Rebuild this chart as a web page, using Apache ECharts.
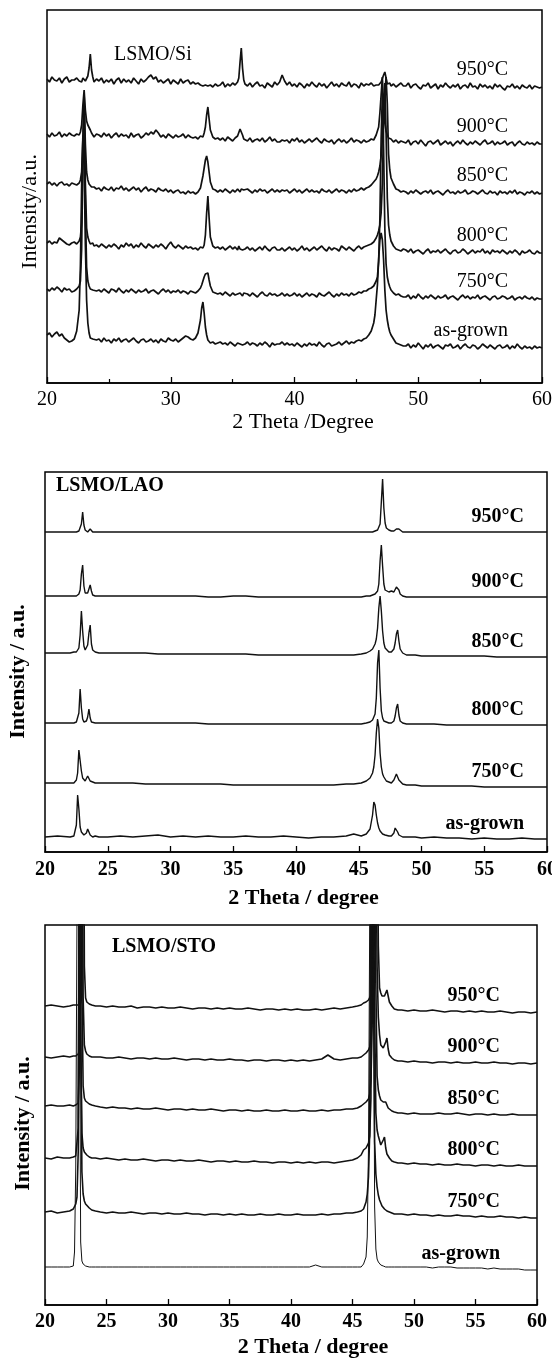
<!DOCTYPE html>
<html>
<head>
<meta charset="utf-8">
<title>LSMO XRD</title>
<script src="https://cdn.jsdelivr.net/npm/echarts@6/dist/echarts.min.js"></script>
<style>
html, body { margin: 0; padding: 0; background: #fff; }
#chart { width: 552px; height: 1360px; }
</style>
</head>
<body>
<div id="chart"></div>
<script>
// trace names, top to bottom
const traceNames = ['950°C', '900°C', '850°C', '800°C', '750°C', 'as-grown'];

// ---- LSMO/Si : 2theta samples and intensities (a.u., relative to each trace's stack offset)
const thetaSi = [
  20.0, 20.2, 20.4, 20.6, 20.8, 21.0, 21.2, 21.4, 21.6, 21.8, 22.0,
  22.2, 22.4, 22.6, 22.7, 22.8, 22.9, 23.0, 23.1, 23.2, 23.3, 23.4, 23.5, 23.6, 23.7, 23.8, 24.0,
  24.2, 24.4, 24.6, 24.8, 25.0, 25.2, 25.4, 25.6, 25.8, 26.0,
  26.2, 26.4, 26.6, 26.8, 27.0, 27.2, 27.4, 27.6, 27.8, 28.0,
  28.2, 28.4, 28.6, 28.8, 29.0, 29.2, 29.4, 29.6, 29.8, 30.0,
  30.2, 30.4, 30.6, 30.8, 31.0, 31.2, 31.4, 31.6, 31.8,
  32.0, 32.2, 32.4, 32.5, 32.6, 32.7, 32.8, 32.9, 33.0, 33.1, 33.2, 33.4, 33.6, 33.8,
  34.0, 34.2, 34.4, 34.6, 34.8, 35.0, 35.2, 35.4,
  35.5, 35.6, 35.7, 35.8, 35.9, 36.0,
  36.2, 36.4, 36.6, 36.8, 37.0, 37.2, 37.4, 37.6, 37.8, 38.0, 38.2, 38.4, 38.6,
  38.8, 39.0, 39.2,
  39.4, 39.6, 39.8, 40.0, 40.2, 40.4, 40.6, 40.8, 41.0, 41.2,
  41.4, 41.6, 41.8, 42.0, 42.2, 42.4, 42.6, 42.8, 43.0, 43.2,
  43.4, 43.6, 43.8, 44.0, 44.2, 44.4, 44.6, 44.8, 45.0, 45.2,
  45.4, 45.6, 45.8,
  46.0, 46.2, 46.4, 46.5, 46.6, 46.7, 46.8, 46.9, 47.0, 47.1,
  47.2, 47.3, 47.4, 47.5, 47.6, 47.7, 47.8, 48.0, 48.2, 48.4,
  48.6, 48.8,
  49.0, 49.2, 49.4, 49.6, 49.8, 50.0, 50.2, 50.4, 50.6, 50.8,
  51.0, 51.2, 51.4, 51.6, 51.8, 52.0, 52.2, 52.4, 52.6, 52.8,
  53.0, 53.2, 53.4, 53.6, 53.8, 54.0, 54.2, 54.4, 54.6, 54.8,
  55.0, 55.2, 55.4, 55.6, 55.8, 56.0, 56.2, 56.4, 56.6, 56.8,
  57.0, 57.2, 57.4, 57.6, 57.8, 58.0, 58.2, 58.4, 58.6, 58.8,
  59.0, 59.2, 59.4, 59.6, 59.8, 60.0
];
const offsetSi = [303, 248, 199, 140, 94, 48];
const si950 = [
  1, -2, 3, 0, -1, 2, -3, 1, 3, -2, 0,
  0, 2, -1, 1, -2, 2, 0, -1, 1, 4, 12, 26, 10, 3, -2, 1,
  -1, 2, -3, 0, -2, 1, -4, 0, 2, -3,
  1, -2, 0, -3, 2, -1, -4, 1, -2, 0,
  3, 5, 1, 3, -2, 0, -3, -1, 1, -4,
  0, -2, -4, 1, -3, -1, 0, -4, -2,
  -4, -3, -5, -3, -6, -4, -5, -3, -6, -4, -5, -7, -4, -6,
  -5, -2, -7, -4, -6, -3, -5, -2,
  2, 18, 32, 12, 0, -4,
  -6, -3, -7, -4, -2, -6, -5, -8, -3, -5, -7, -2, -5,
  -2, 5, -1,
  -5, -2, -6, -4, -7, -3, -5, -8, -4, -6,
  -2, -5, -7, -3, -6, -4, -8, -5, -2, -6,
  -4, -7, -3, -5, -6, -2, -7, -4, -5, -8,
  -3, -6, -4,
  -5, -3, -6, -4, -5, -3, -5, -3, -2, 0,
  5, 8, 2, -4, -5, -3, -6, -4, -7, -5,
  -3, -6,
  -6, -3, -8, -5, -4, -7, -9, -5, -6, -3,
  -8, -6, -4, -9, -5, -7, -3, -6, -8, -5,
  -7, -4, -9, -6, -5, -8, -3, -7, -6, -9,
  -4, -7, -5, -8, -6, -9, -4, -7, -5, -8,
  -10, -6, -7, -4, -8, -6, -9, -5, -7, -8,
  -5, -9, -6, -7, -8, -7
];
const si900 = [
  1, -2, 2, -1, 0, 3, -2, 1, -1, 2, 0,
  -1, 1, 0, 3, 10, 30, 45, 25, 14, 10, 8, 5, 2, 0, -2, 1,
  0, -2, 2, -1, 1, -3, 0, 2, -2, 1,
  -1, 0, -3, 2, -2, 0, 1, -3, -1, 2,
  0, 3, 1, 5, 2, -2, 0, -3, 1, -1,
  -3, 0, -2, -1, 1, -3, 0, -2, -3,
  -2, -4, -1, -3, -2, 2, 8, 20, 28, 16, 5, -2, -4, -3,
  -5, -3, -6, -2, -4, -6, -3, -1,
  0, 6, 5, 0, -4, -5,
  -6, -3, -7, -5, -4, -6, -3, -7, -5, -2, -6, -4, -7,
  -7, -5, -6,
  -5, -8, -4, -6, -3, -7, -5, -8, -6, -4,
  -7, -5, -3, -6, -8, -4, -6, -7, -5, -9,
  -6, -4, -7, -5, -8, -6, -3, -7, -5, -6,
  -8, -5, -7,
  -6, -4, -5, -3, 0, 2, 8, 22, 40, 58,
  30, 12, 4, 0, -3, -5, -4, -7, -5, -8,
  -6, -7,
  -8, -5, -10, -7, -6, -9, -5, -8, -11, -7,
  -6, -9, -7, -5, -10, -8, -6, -9, -7, -11,
  -8, -6, -9, -5, -8, -10, -7, -9, -6, -8,
  -10, -7, -5, -9, -8, -6, -10, -7, -9, -8,
  -6, -10, -8, -7, -11, -8, -6, -9, -10, -7,
  -9, -8, -10, -7, -9, -9
];
const si850 = [
  0, 2, -1, 1, -2, 1, 2, -1, 0, -2, 1,
  0, -1, 1, 4, 12, 45, 89, 40, 12, 4, 0, -2, -3, -4, -3, -5,
  -4, -7, -3, -5, -6, -3, -7, -4, -5, -2,
  -6, -4, -7, -5, -3, -6, -4, -8, -5, -3,
  -7, -5, -6, -8, -4, -6, -7, -5, -8, -6,
  -9, -7, -6, -9, -8, -10, -7, -9, -8,
  -10, -8, -4, 2, 8, 16, 24, 28, 22, 12, 2, -5, -6, -8,
  -6, -8, -5, -7, -9, -6, -8, -5,
  -6, -8, -5, -7, -6, -8,
  -5, -7, -9, -6, -8, -5, -7, -6, -9, -7, -5, -8, -6,
  -8, -6, -7,
  -6, -9, -7, -5, -8, -6, -9, -7, -5, -8,
  -6, -8, -7, -9, -5, -7, -8, -6, -9, -7,
  -5, -8, -6, -7, -9, -6, -8, -5, -7, -6,
  -4, -6, -4,
  -3, -1, 2, 3, 5, 8, 12, 18, 28, 45,
  70, 90, 107, 80, 30, 14, 6, 0, -5, -6,
  -8, -7,
  -8, -10, -7, -9, -6, -8, -10, -8, -7, -9,
  -6, -10, -8, -7, -9, -11, -8, -6, -9, -8,
  -10, -7, -9, -8, -6, -10, -9, -7, -8, -10,
  -8, -6, -9, -10, -7, -9, -8, -11, -7, -9,
  -8, -10, -7, -9, -6, -10, -8, -9, -11, -8,
  -9, -7, -10, -8, -10, -9
];
const si800 = [
  0, 2, -1, 1, 0, 5, 3, 1, -1, -2, 0,
  1, -1, 2, 6, 20, 90, 142, 60, 15, 6, 2, -1, -2, 0, -3, -2,
  -4, -1, -3, -5, -2, -4, -1, -3, -6, -2,
  -4, 0, -3, -1, -5, -2, -4, 0, -3, -5,
  -1, -3, -5, -2, -4, -1, -3, -6, -2, 1,
  -3, -5, -2, -4, -6, -3, -5, -4, -6,
  -5, -7, -4, -6, -5, -2, 8, 30, 47, 25, 6, -3, -5, -4,
  -6, -4, -7, -5, -3, -6, -4, -7,
  -3, -6, -4, -7, -5, -6,
  -4, -7, -5, -8, -6, -4, -7, -3, -6, -8, -5, -4, -7,
  -7, -5, -8,
  -6, -4, -7, -5, -8, -6, -3, -7, -5, -8,
  -6, -4, -7, -5, -3, -6, -8, -4, -7, -5,
  -6, -8, -3, -5, -7, -4, -6, -8, -5, -3,
  -6, -4, -3,
  -2, -1, 1, 3, 5, 8, 12, 18, 30, 60,
  120, 160, 110, 45, 18, 8, 2, -3, -6, -7,
  -8, -6,
  -7, -9, -6, -10, -8, -7, -9, -11, -8, -6,
  -10, -8, -9, -7, -10, -8, -6, -9, -11, -8,
  -7, -10, -9, -6, -8, -11, -9, -7, -10, -8,
  -9, -6, -10, -8, -11, -7, -9, -8, -10, -7,
  -9, -11, -8, -10, -7, -9, -12, -8, -10, -9,
  -7, -10, -11, -8, -10, -10
];
const si750 = [
  0, -2, 1, -1, 2, 0, -3, 1, -1, 0, -3,
  -2, 0, 3, 8, 40, 130, 180, 80, 22, 8, 3, 0, -2, -1, -3, -2,
  -1, -3, 0, -2, -4, 0, -1, -3, 1, -2,
  -4, -1, -3, 0, -2, -4, -1, -3, -2, 0,
  -4, -2, -1, -3, -5, -2, 0, -3, -1, -4,
  -2, -3, -1, -4, -2, -3, -5, -2, -3,
  -4, -2, 1, 4, 8, 12, 15, 14, 16, 9, 3, -3, -4, -5,
  -4, -6, -3, -5, -7, -4, -6, -5,
  -6, -4, -5, -7, -4, -6,
  -5, -7, -4, -6, -8, -5, -3, -6, -7, -4, -6, -5, -7,
  -6, -4, -7,
  -5, -7, -6, -4, -7, -5, -8, -6, -4, -7,
  -5, -6, -8, -4, -6, -7, -5, -3, -6, -8,
  -5, -7, -4, -6, -5, -7, -4, -6, -5, -3,
  -4, -2, -2,
  0, 1, 3, 5, 8, 12, 28, 70, 150, 196,
  140, 60, 25, 12, 6, 2, -1, -4, -6, -5,
  -7, -8,
  -8, -6, -10, -7, -9, -5, -8, -10, -7, -9,
  -6, -8, -10, -7, -9, -8, -6, -10, -8, -7,
  -9, -11, -8, -6, -9, -7, -10, -8, -9, -6,
  -10, -8, -7, -9, -11, -8, -7, -10, -9, -7,
  -8, -10, -9, -7, -11, -9, -8, -10, -7, -9,
  -10, -8, -11, -9, -10, -10
];
const siAsGrown = [
  0, 2, -2, 1, 3, -1, 1, -3, -5, -7, -6,
  -4, 4, 25, 70, 150, 200, 170, 90, 35, 12, 2, -3, -5, -4, -6, -5,
  -4, -7, -3, -6, -5, -8, -4, -6, -3, -7,
  -5, -4, -7, -5, -3, -6, -8, -5, -4, -7,
  -6, -4, -7, -5, -8, -4, -6, -7, -3, -5,
  -6, -4, -7, -5, -3, -1, -2, -4, -5,
  -3, 2, 15, 27, 33, 22, 8, 0, -5, -7, -8, -7, -9, -8,
  -7, -9, -8, -10, -7, -9, -11, -8,
  -8, -9, -7, -10, -8, -9,
  -7, -10, -8, -9, -11, -8, -10, -7, -9, -12, -8, -10, -9,
  -9, -7, -10,
  -8, -10, -9, -11, -8, -10, -12, -9, -11, -8,
  -10, -9, -11, -7, -10, -12, -9, -8, -11, -10,
  -9, -7, -10, -8, -6, -9, -7, -8, -6, -5,
  -6, -4, -3,
  0, 4, 12, 20, 35, 50, 75, 95, 102, 95,
  75, 45, 25, 15, 8, 3, 0, -4, -8, -9,
  -10, -11,
  -11, -9, -13, -10, -12, -8, -11, -14, -10, -12,
  -9, -13, -11, -10, -12, -14, -10, -11, -9, -13,
  -12, -10, -14, -11, -9, -12, -13, -10, -11, -14,
  -12, -9, -11, -13, -10, -12, -14, -11, -10, -13,
  -12, -10, -14, -11, -13, -9, -12, -14, -11, -13,
  -12, -14, -11, -13, -12, -13
];

// ---- LSMO/LAO
const thetaLao = [
  20, 21, 22, 22.3,
  22.4, 22.5, 22.6, 22.7, 22.8, 22.9, 23.0, 23.1, 23.2, 23.3, 23.4, 23.5, 23.6, 23.7, 23.8, 24.0, 24.3,
  25, 26, 27, 28, 29, 30, 31, 32, 33, 34, 35, 36, 37, 38, 39, 40, 41, 42, 43, 44,
  44.6, 45.2, 45.6, 45.9, 46.1, 46.2, 46.3, 46.4, 46.5, 46.6, 46.7, 46.8, 46.9, 47.0, 47.1, 47.2, 47.4, 47.6, 47.8, 47.9, 48.0, 48.1, 48.2, 48.3, 48.5, 48.8,
  49.5, 50, 51, 52, 53, 54, 55, 56, 57, 58, 59, 60
];
const offsetLao = [320, 256, 199, 129, 69, 15];
const lao950 = [
  0, 0, 0, 0,
  0, 0, 0, 1, 2, 8, 20, 7, 2, 1, 0, 1, 3, 1, 0, 0, 0,
  0, 0, 0, 0, 0, 0, 0, 0, 0, 0, 0, 0, 0, 0, 0, 0, 0, 0, 0, 0,
  0, 0, 0, 0, 0, 0, 1, 1, 2, 3, 8, 30, 53, 24, 9, 4, 2, 1, 1, 2, 3, 4, 3, 1, 0, 0,
  0, 0, 0, 0, 0, 0, 0, 0, 0, 0, 0, 0
];
const lao900 = [
  0, 0, 0, 0,
  0, 0, 1, 2, 6, 22, 31, 10, 3, 2, 3, 7, 11, 5, 1, 0, 0,
  0, 0, 0, 0, 0, 0, 0, 0, -1, -1, 0, 0, -1, -1, -1, -1, -1, -1, -1, -1,
  -1, -1, 0, 0, 1, 1, 2, 3, 5, 12, 35, 51, 30, 12, 6, 4, 4, 5, 4, 6, 9, 10, 6, 2, 0, -1,
  -1, -1, -1, -1, -1, -1, -1, -1, -1, -1, -1, -1
];
const lao850 = [
  0, 0, 0, 1,
  1, 1, 2, 5, 18, 42, 22, 7, 3, 4, 8, 20, 28, 9, 3, 1, 0,
  0, 0, 0, 0, -1, -1, -1, -1, -1, -1, -1, -1, -2, -2, -2, -2, -2, -2, -2, -2,
  -2, -1, 0, 2, 4, 6, 9, 14, 25, 45, 57, 42, 22, 10, 5, 3, 1, 1, 4, 10, 19, 23, 12, 4, 0, -2,
  -2, -3, -3, -3, -3, -3, -3, -4, -4, -4, -4, -4
];
const lao800 = [
  0, 0, 0, 0,
  0, 1, 2, 10, 34, 15, 4, 1, 1, 2, 6, 14, 5, 1, 0, 0, 0,
  0, 0, 0, 0, 0, 0, 0, 0, -1, -1, -1, -1, -1, -1, -1, -1, -1, -1, -1, -1,
  -1, -1, 0, 1, 3, 5, 9, 25, 60, 73, 35, 12, 5, 2, 1, 1, 0, 0, 2, 7, 15, 19, 8, 2, 0, -1,
  -1, -1, -1, -2, -2, -2, -2, -2, -2, -2, -2, -2
];
const lao750 = [
  0, 0, 0, 0,
  1, 3, 10, 33, 33, 12, 5, 3, 2, 3, 7, 5, 2, 1, 1, 0, 0,
  0, 0, 0, -1, -1, -1, -1, -1, -1, -1, -2, -2, -2, -2, -2, -2, -2, -2, -2, -1,
  -1, 0, 2, 5, 10, 16, 28, 50, 64, 55, 30, 16, 9, 6, 4, 2, 1, 0, 3, 6, 9, 7, 3, 1, -1, -2,
  -2, -3, -3, -3, -3, -3, -4, -4, -4, -4, -4, -4
];
const laoAsGrown = [
  0, 1, 0, 1,
  2, 12, 42, 28, 10, 5, 3, 2, 2, 4, 8, 5, 2, 1, 0, 1, 0,
  0, 1, 0, 1, 2, 0, 1, 0, 1, 0, 0, 1, 0, 0, 1, 0, -1, 0, 0, 1,
  3, 1, 3, 8, 22, 35, 32, 22, 14, 9, 6, 4, 3, 2, 2, 1, 1, 1, 4, 9, 10, 5, 2, 1, 0, 0,
  0, -1, 0, -1, -1, -2, -1, -2, -2, -1, -2, -2
];

// ---- LSMO/STO (main film/substrate peaks run off the top of the frame)
const thetaSto = [
  20.0, 20.5, 21.0, 21.5, 22.0, 22.3,
  22.4, 22.5, 22.6, 22.7, 22.8, 22.9, 23.0, 23.1, 23.2, 23.3, 23.4, 23.6, 23.8, 24.1,
  24.5, 25.0, 25.5, 26.0, 26.5, 27.0, 27.5, 28.0, 28.5, 29.0, 29.5, 30.0, 30.5, 31.0, 31.5, 32.0, 32.5, 33.0, 33.5, 34.0, 34.5, 35.0, 35.5, 36.0, 36.5, 37.0, 37.5, 38.0, 38.5, 39.0, 39.5, 40.0, 40.5, 41.0, 41.5,
  42.0, 42.5, 43.0, 43.5, 44.0, 44.5, 45.0, 45.4, 45.7, 45.9, 46.1, 46.2, 46.3, 46.4, 46.5, 46.6, 46.7, 46.8, 46.9, 47.0, 47.1, 47.2, 47.3, 47.4, 47.5, 47.6, 47.7, 47.8, 47.9, 48.0, 48.2, 48.4, 48.7,
  49.0, 49.5, 50.0, 50.5, 51.0, 51.5, 52.0, 52.5, 53.0, 53.5, 54.0, 54.5, 55.0, 55.5, 56.0, 56.5, 57.0, 57.5, 58.0, 58.5, 59.0, 59.5, 60.0
];
const offsetSto = [299, 248, 199, 147, 93, 38];
const sto950 = [
  0, 1, 0, -1, 0, 1,
  0, 1, 0, 1, 2, 3, 10, 400, 40, 8, 4, 2, 1, 0,
  0, -1, 0, -1, -1, 0, -2, -1, -1, -2, -1, -2, -2, -1, -2, -3, -2, -2, -3, -2, -3, -2, -3, -3, -2, -3, -4, -3, -3, -4, -3, -4, -3, -4, -4,
  -3, -4, -3, -2, -3, -2, -1, 0, 1, 3, 4, 5, 6, 8, 11, 16, 30, 80, 400, 400, 60, 18, 13, 10, 8, 10, 13, 16, 10, 4, 0, -3, -4,
  -4, -5, -4, -5, -5, -4, -5, -6, -5, -5, -6, -5, -6, -5, -6, -6, -5, -6, -7, -6, -6, -7, -6
];
const sto900 = [
  0, -1, 0, 1, 0, 1,
  1, 1, 2, 3, 6, 60, 400, 60, 12, 6, 3, 1, 0, 0,
  0, -1, -1, 0, -1, -2, -1, -1, -2, -1, -2, -2, -1, -2, -3, -2, -2, -3, -2, -3, -3, -2, -3, -3, -4, -3, -3, -4, -3, -3, -4, -3, -4, -3, -4,
  -3, -2, 2, -2, -3, -2, -1, -1, 0, 2, 4, 5, 7, 10, 20, 60, 200, 400, 400, 90, 40, 22, 12, 10, 9, 12, 15, 19, 8, 2, -1, -3, -4,
  -4, -5, -4, -5, -5, -6, -5, -5, -6, -5, -6, -6, -5, -6, -6, -5, -6, -6, -7, -6, -6, -7, -6
];
const sto850 = [
  0, 1, 0, 0, 1, 0,
  1, 1, 2, 3, 40, 400, 120, 20, 8, 5, 3, 2, 1, 0,
  -1, -2, -1, -2, -2, -3, -2, -3, -3, -2, -3, -4, -3, -3, -4, -3, -4, -4, -3, -4, -5, -4, -4, -5, -4, -5, -5, -4, -5, -5, -4, -5, -5, -4, -5,
  -5, -4, -5, -4, -4, -3, -3, -2, 0, 2, 4, 5, 7, 12, 25, 80, 400, 400, 120, 30, 16, 10, 6, 4, 4, 5, 4, 1, -2, -4, -5, -6, -7,
  -7, -8, -7, -8, -8, -8, -7, -8, -8, -7, -8, -9, -8, -8, -9, -8, -9, -9, -8, -9, -9, -9, -9
];
const sto800 = [
  0, -1, 1, 0, 0, 1,
  1, 2, 4, 30, 400, 120, 25, 10, 6, 4, 3, 1, 0, 0,
  -1, 0, -1, -2, -1, -2, -2, -1, -2, -3, -2, -2, -3, -2, -3, -3, -2, -3, -4, -3, -3, -4, -3, -4, -4, -3, -4, -4, -5, -4, -4, -5, -4, -5, -4,
  -5, -4, -4, -5, -4, -3, -2, 0, 3, 8, 10, 12, 15, 22, 60, 400, 400, 150, 45, 28, 22, 20, 13, 12, 18, 21, 10, 4, 2, 0, -3, -4, -5,
  -5, -6, -5, -6, -6, -7, -6, -7, -7, -6, -7, -7, -8, -7, -7, -8, -7, -8, -8, -7, -8, -8, -8
];
const sto750 = [
  0, 1, -1, 0, 1, 3,
  5, 8, 15, 60, 400, 200, 40, 18, 11, 8, 6, 4, 2, 1,
  0, -1, 0, -1, -1, 0, -1, -2, -1, -1, -2, -1, -2, -2, -1, -2, -2, -3, -2, -2, -3, -2, -3, -2, -3, -3, -2, -3, -3, -2, -3, -3, -2, -3, -3,
  -3, -2, -3, -2, -2, -1, -1, 0, 1, 3, 10, 18, 35, 80, 400, 400, 250, 70, 38, 25, 17, 12, 9, 6, 4, 3, 2, 1, 0, 0, -1, -2, -2,
  -2, -3, -2, -3, -3, -4, -3, -4, -4, -3, -4, -4, -5, -4, -5, -5, -4, -5, -5, -6, -5, -6, -6
];
const stoAsGrown = [
  0, 0, 0, 0, 0, 1,
  15, 100, 350, 420, 300, 25, 6, 3, 2, 1, 1, 0, 0, 0,
  0, 0, 0, 0, 0, 0, 0, 0, 0, 0, 0, 0, 0, 0, 0, 0, 0, 0, 0, 0, 0, 0, 0, 0, 0, 0, 0, 0, 0, 0, 0, 0, 0, 0, 0,
  2, 0, 0, 0, 0, 0, 0, 0, 0, 3, 10, 30, 120, 350, 420, 420, 350, 60, 18, 8, 5, 3, 2, 1, 1, 0, 0, 0, 0, 0, 0, 0, 0,
  0, 0, 0, 0, 0, -1, 0, 0, 0, -1, -1, -1, -1, -1, -2, -1, -2, -2, -2, -2, -3, -3, -3
];

const FONT = "'Liberation Serif', 'Times New Roman', serif";

const panels = [
  {
    tag: 'LSMO/Si', theta: thetaSi, offsets: offsetSi,
    traces: [si950, si900, si850, si800, si750, siAsGrown],
    grid: { left: 47, top: 10, width: 495, height: 373 },
    interval: 10, minor: true, bold: false, lineWidth: 1.7,
    xName: '2 Theta /Degree', xNameGap: 25, xNamePad: 17,
    yName: 'Intensity/a.u.', yNameGap: 6, yNamePad: 30,
    labelMargin: 7, endDx: -122, endDy: -17,
    tagPos: { left: 114, top: 45 }
  },
  {
    tag: 'LSMO/LAO', theta: thetaLao, offsets: offsetLao,
    traces: [lao950, lao900, lao850, lao800, lao750, laoAsGrown],
    grid: { left: 45, top: 472, width: 502, height: 380 },
    interval: 5, minor: false, bold: true, lineWidth: 1.4,
    xName: '2 Theta / degree', xNameGap: 35, xNamePad: 15,
    yName: 'Intensity / a.u.', yNameGap: 16, yNamePad: 19,
    labelMargin: 8, endDx: -111, endDy: -15,
    tagPos: { left: 56, top: 476 }
  },
  {
    tag: 'LSMO/STO', theta: thetaSto, offsets: offsetSto,
    traces: [sto950, sto900, sto850, sto800, sto750, stoAsGrown],
    grid: { left: 45, top: 925, width: 492, height: 380 },
    interval: 5, minor: false, bold: true, lineWidth: 1.6,
    xName: '2 Theta / degree', xNameGap: 31, xNamePad: 44,
    yName: 'Intensity / a.u.', yNameGap: 11, yNamePad: 17,
    labelMargin: 7, endDx: -125, endDy: -16,
    tagPos: { left: 112, top: 937 }
  }
];

const option = { animation: false, title: [], grid: [], xAxis: [], yAxis: [], series: [] };

panels.forEach((p, g) => {
  const weight = p.bold ? 'bold' : 'normal';
  option.title.push({
    text: p.tag, left: p.tagPos.left, top: p.tagPos.top, padding: 0,
    textStyle: { fontFamily: FONT, fontSize: 20, fontWeight: weight, color: '#000' }
  });
  option.grid.push(Object.assign({
    show: true, borderColor: '#000', borderWidth: 1.5, outerBoundsMode: 'none'
  }, p.grid));
  option.xAxis.push({
    gridIndex: g, type: 'value', min: 20, max: 60, interval: p.interval,
    name: p.xName, nameLocation: 'middle', nameGap: p.xNameGap,
    nameTextStyle: { fontFamily: FONT, fontSize: 22, fontWeight: weight, color: '#000', padding: [0, 0, 0, p.xNamePad] },
    axisLine: { show: true, lineStyle: { color: '#000', width: 1.5 } },
    axisTick: { show: true, inside: true, length: 6, lineStyle: { color: '#000', width: 1.3 } },
    minorTick: { show: p.minor, splitNumber: 2, length: 4, lineStyle: { color: '#000', width: 1.2 } },
    axisLabel: { margin: p.labelMargin, fontFamily: FONT, fontSize: 20, fontWeight: weight, color: '#000' },
    splitLine: { show: false }
  });
  option.yAxis.push({
    gridIndex: g, type: 'value', min: 0, max: p.grid.height,
    name: p.yName, nameLocation: 'middle', nameGap: p.yNameGap,
    nameTextStyle: { fontFamily: FONT, fontSize: 22, fontWeight: weight, color: '#000', padding: [0, p.yNamePad, 0, 0] },
    axisLine: { show: false }, axisTick: { show: false }, axisLabel: { show: false }, splitLine: { show: false }
  });
  p.traces.forEach((tr, i) => {
    const name = traceNames[i];
    const labelWeight = (p.bold || (g === 1 && i === 5)) ? 'bold' : 'normal';
    option.series.push({
      type: 'line', name: name, xAxisIndex: g, yAxisIndex: g,
      symbol: 'none', silent: true,
      lineStyle: { color: '#111', width: (g === 2 && i === 5) ? 1 : p.lineWidth },
      data: p.theta.map((t, k) => [t, p.offsets[i] + tr[k]]),
      endLabel: {
        show: true,
        formatter: () => '{t|' + name + '}',
        offset: [p.endDx, p.endDy],
        rich: { t: { width: 80, align: 'right', fontFamily: FONT, fontSize: 20, fontWeight: labelWeight, color: '#000' } }
      }
    });
  });
});

const chart = echarts.init(document.getElementById('chart'));
chart.setOption(option);
</script>
</body>
</html>
